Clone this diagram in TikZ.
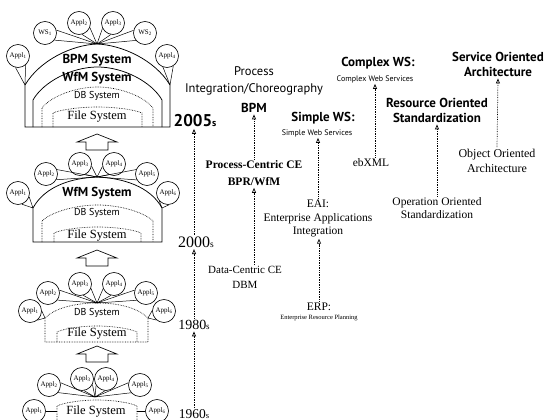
\documentclass[tikz,border=0pt]{standalone}
\usepackage{fontspec}
\setmainfont{Liberation Serif}
\newfontfamily\sansf{PT Sans}
\usetikzlibrary{calc,arrows.meta}
\newcommand{\fs}[2]{\fontsize{#1}{#2}\selectfont}
% style, xl, xr, yshoulder, ypeak, ybottom
\newcommand{\stackarch}[6]{%
  \pgfmathsetmacro{\arW}{#3-#2}%
  \pgfmathsetmacro{\arCx}{(#2+#3)/2}%
  \pgfmathsetmacro{\arXa}{#2+0.08*\arW}%
  \pgfmathsetmacro{\arYa}{#5+0.45*(#4-#5)}%
  \pgfmathsetmacro{\arXb}{#2+0.3*\arW}%
  \pgfmathsetmacro{\arXc}{#3-0.08*\arW}%
  \pgfmathsetmacro{\arXd}{#3-0.3*\arW}%
  \draw[#1] (#2,#6) -- (#2,#4) .. controls (\arXa,\arYa) and (\arXb,#5) .. (\arCx,#5)
     .. controls (\arXd,#5) and (\arXc,\arYa) .. (#3,#4) -- (#3,#6);}
\newcommand{\linkto}[3][26]{%
  \draw[wire] let \p1=($(#3)-(#2)$), \n1={atan2(\y1,\x1)}, \n2={\n1+#1}, \n3={\n1-#1}
    in (#2.\n2) -- (#3) (#2.\n3) -- (#3);}
\begin{document}
\begin{tikzpicture}[x=1pt,y=-1pt,
  sys/.style={line width=0.75pt},
  sysd/.style={line width=0.65pt, densely dotted},
  wire/.style={line width=0.5pt},
  blk/.style={line width=0.65pt},
  app/.style={circle, draw, fill=white, line width=0.65pt, minimum size=23pt, inner sep=0pt, font=\fs{7}{7}},
  tl/.style={line width=0.7pt, densely dotted, -{Triangle[open,length=5pt,width=4pt]}},
  sysb/.style={font=\sansf\bfseries\fs{13}{14}},
  sysdb/.style={font=\sansf\fs{10}{11}},
  sysfile/.style={font=\fs{12.5}{14}},
  head/.style={font=\sansf\bfseries\fs{13}{15}, align=center, inner sep=1.5pt},
  plain/.style={font=\sansf\fs{12.5}{17}, align=center, inner sep=1.5pt},
  smalls/.style={font=\sansf\fs{8}{9}, inner sep=1pt},
  ser/.style={font=\fs{11.5}{14}, align=center, inner sep=1.5pt},
  yr/.style={inner sep=1.5pt}
]
\useasboundingbox[fill=white] (0,0) rectangle (560,420);

%%%%%%%% Stack 1 (2005s)
\coordinate (s1p) at (97,44);
\coordinate (s1l) at (25,85);
\coordinate (s1r) at (170,85);
\draw[sys] (25,127) -- (s1l) .. controls (40,60) and (72,45) .. (s1p)
   .. controls (122,45) and (155,60) .. (s1r) -- (170,127) -- cycle;
\stackarch{sys}{33}{162}{100}{67}{127}
\stackarch{sysd}{42}{153}{108}{87}{127}
\stackarch{sysd}{53}{142}{113}{107}{127}
\node[app] (s1a) at (18,56) {Appl\textsubscript{1}};
\node[app] (s1b) at (45,33) {WS\textsubscript{1}};
\node[app] (s1c) at (79,23) {Appl\textsubscript{2}};
\node[app] (s1d) at (113,23) {Appl\textsubscript{3}};
\node[app] (s1e) at (145,33) {WS\textsubscript{2}};
\node[app] (s1f) at (167,56) {Appl\textsubscript{4}};
\linkto{s1a}{s1l}\linkto{s1f}{s1r}
\linkto{s1b}{s1p}\linkto{s1c}{s1p}\linkto{s1d}{s1p}\linkto{s1e}{s1p}
\node[sysb] (s1t1) at (97,60) {BPM System};
\node[sysb] (s1t2) at (97,78) {WfM System};
\node[sysdb] (s1t3) at (97,96) {DB System};
\node[sysfile] (s1t4) at (97,117) {File System};
\draw[blk] (86,150) -- (86,142) -- (77,142) -- (97,134) -- (117,142) -- (108,142) -- (108,150) -- cycle;

%%%%%%%% Stack 2 (2000s)
\coordinate (s2p) at (97,177);
\coordinate (s2l) at (33,208);
\coordinate (s2r) at (162,208);
\draw[sys] (33,242) -- (s2l) .. controls (45,186) and (72,178) .. (s2p)
   .. controls (122,178) and (150,186) .. (s2r) -- (162,242) -- cycle;
\stackarch{sysd}{42}{153}{221}{205}{242}
\stackarch{sysd}{54}{141}{233}{227}{242}
\node[app] (s2a) at (18,193) {Appl\textsubscript{1}};
\node[app] (s2b) at (46,174) {Appl\textsubscript{2}};
\node[app] (s2c) at (80,164) {Appl\textsubscript{3}};
\node[app] (s2d) at (114,164) {Appl\textsubscript{4}};
\node[app] (s2e) at (147,174) {Appl\textsubscript{5}};
\node[app] (s2f) at (168,193) {Appl\textsubscript{6}};
\linkto{s2a}{s2l}\linkto{s2f}{s2r}
\linkto{s2b}{s2p}\linkto{s2c}{s2p}\linkto{s2d}{s2p}\linkto{s2e}{s2p}
\node[sysb] (s2t2) at (97,193) {WfM System};
\node[sysdb] (s2t3) at (97,213) {DB System};
\node[sysfile] (s2t4) at (97,236) {File System};
\draw[blk] (86,266) -- (86,258) -- (77,258) -- (97,250) -- (117,258) -- (108,258) -- (108,266) -- cycle;

%%%%%%%% Stack 3 (1980s)
\coordinate (s3p) at (97,303);
\coordinate (s3l) at (45,318);
\coordinate (s3r) at (148,318);
\draw[sysd] (45,342) -- (s3l) .. controls (55,308) and (75,303) .. (s3p)
   .. controls (119,303) and (138,308) .. (s3r) -- (148,342) -- cycle;
\stackarch{sysd}{57}{137}{332}{326}{342}
\node[app] (s3a) at (30,311) {Appl\textsubscript{1}};
\node[app] (s3b) at (48,293) {Appl\textsubscript{2}};
\node[app] (s3c) at (80,284) {Appl\textsubscript{3}};
\node[app] (s3d) at (114,284) {Appl\textsubscript{4}};
\node[app] (s3e) at (146,293) {Appl\textsubscript{5}};
\node[app] (s3f) at (164,311) {Appl\textsubscript{6}};
\linkto{s3a}{s3l}\linkto{s3f}{s3r}
\linkto{s3b}{s3p}\linkto{s3c}{s3p}\linkto{s3d}{s3p}\linkto{s3e}{s3p}
\node[sysdb] (s3t3) at (97,313) {DB System};
\node[sysfile] (s3t4) at (97,334) {File System};
\draw[blk] (86,362) -- (86,354) -- (77,354) -- (97,346) -- (117,354) -- (108,354) -- (108,362) -- cycle;

%%%%%%%% Stack 4 (1960s)
\coordinate (s4p) at (95,397);
\coordinate (s4l) at (57,411);
\coordinate (s4r) at (137,411);
\stackarch{sysd}{57}{137}{406}{400}{425}
\node[app] (s4a) at (34,411) {Appl\textsubscript{1}};
\node[app] (s4b) at (49,385) {Appl\textsubscript{2}};
\node[app] (s4c) at (82,379) {Appl\textsubscript{3}};
\node[app] (s4d) at (106,379) {Appl\textsubscript{4}};
\node[app] (s4e) at (140,385) {Appl\textsubscript{5}};
\node[app] (s4f) at (157,411) {Appl\textsubscript{6}};
\draw[wire] (s4a) -- (s4l);
\draw[wire] (s4f) -- (s4r);
\linkto{s4b}{s4p}\linkto{s4c}{s4p}\linkto{s4d}{s4p}\linkto{s4e}{s4p}
\node[sysfile] (s4t4) at (96,412) {File System};

%%%%%%%% Timeline
\node[yr, font=\fs{13.5}{14}] (t60) at (194,414) {1960{\fs{8.5}{9}s}};
\node[yr, font=\fs{14}{15}] (t80) at (194,325) {1980{\fs{9}{9}s}};
\node[yr, font=\fs{16}{17}] (t00) at (196,242) {2000{\fs{9.5}{10}s}};
\node[yr, font=\sansf\bfseries\fs{17}{18}] (t05) at (195,121) {2005{\fs{10}{10}s}};
\draw[tl] (t60.north) -- (t60.north |- t80.south);
\draw[tl] (t80.north) -- (t80.north |- t00.south);
\draw[tl] (t80.north |- t00.north) -- (t80.north |- t05.south);

%%%%%%%% Right side
\node[plain] (procint) at (254,80.5) {Process\\Integration/Choreography};
\node[head] (bpm) at (254,108) {BPM};
\node[ser, font=\bfseries\fs{11.5}{17}] (pcce) at (254,173.5) {Process-Centric CE\\BPR/WfM};
\node[ser, font=\fs{11}{15}] (dcce) at (245,277.5) {Data-Centric CE\\DBM};
\node[head] (sws) at (323,118) {Simple WS:};
\node[smalls] (swsd) at (317,133) {Simple Web Services};
\node[ser, font=\fs{11.5}{13.5}] (eai) at (318,218.5) {EAI:\\Enterprise Applications\\Integration};
\node[ser] (erp) at (319,307) {ERP:};
\node[font=\fs{6.5}{7}, inner sep=1pt] (erpd) at (319,318) {Enterprise Resource Planning};
\node[head] (cws) at (378,63) {Complex WS:};
\node[smalls] (cwsd) at (375,79) {Complex Web Services};
\node[ser] (ebxml) at (371,163) {ebXML};
\node[head] (roa) at (437,110.5) {Resource Oriented\\Standardization};
\node[ser, font=\fs{11.5}{13}] (oos) at (437,208.5) {Operation Oriented\\Standardization};
\node[head] (soa) at (498,64.5) {Service Oriented\\Architecture};
\node[ser, font=\fs{12}{15}] (ooa) at (497,160.5) {Object Oriented\\Architecture};

\draw[tl] (pcce.north) -- (bpm.south);
\draw[tl] (dcce.north -| pcce.south) -- (pcce.south);
\draw[tl] (eai.north) -- (eai.north |- swsd.south);
\draw[tl] (erp.north) -- (erp.north |- eai.south);
\draw[tl] (ebxml.north -| cwsd.south) -- (cwsd.south);
\draw[tl] (oos.north) -- (roa.south);
\draw[tl] (ooa.north) -- (soa.south);
\end{tikzpicture}
\end{document}
